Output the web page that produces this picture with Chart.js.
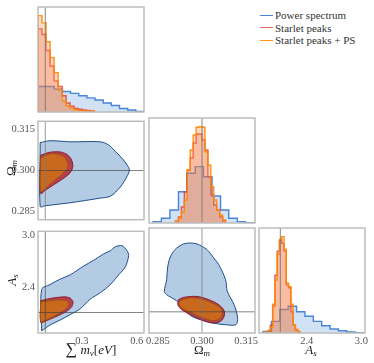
<!DOCTYPE html>
<html>
<head>
<meta charset="utf-8">
<script src="https://cdn.jsdelivr.net/npm/chart.js@4.4.0/dist/chart.umd.min.js"></script>
<style>
  html, body { margin: 0; padding: 0; background: #fff; }
  #wrap { position: relative; width: 374px; height: 363px; overflow: hidden; font-family: "Liberation Serif", "Times New Roman", serif; }
  #wrap canvas { position: absolute; }
  .ttl { position: absolute; color: #222; font-size: 13px; white-space: nowrap; transform: translate(-50%, -50%); line-height: 1; }
  .ttl.rot { transform: translate(-50%, -50%) rotate(-90deg); }
  .ttl sub { font-size: 9px; vertical-align: -2px; }
  .ttl .big { font-size: 16px; }
  .legend { position: absolute; left: 260px; top: 9px; font-size: 11px; color: #333; line-height: 12.5px; }
  .legend div { display: flex; align-items: center; white-space: nowrap; }
  .legend span.sw { display: inline-block; width: 13px; height: 0; border-top: 1.5px solid; margin-right: 2px; }
</style>
</head>
<body>
<div id="wrap">
  <canvas id="p00"></canvas>
  <canvas id="p10"></canvas>
  <canvas id="p11"></canvas>
  <canvas id="p20"></canvas>
  <canvas id="p21"></canvas>
  <canvas id="p22"></canvas>
  <div class="ttl rot" style="left:11px; top:168px;">Ω<sub><i>m</i></sub></div>
  <div class="ttl rot" style="left:12px; top:280px;"><i>A</i><sub><i>s</i></sub></div>
  <div class="ttl" style="left:91px; top:349px;"><span class="big">∑</span> <i>m</i><sub><i>ν</i></sub>[<i>eV</i>]</div>
  <div class="ttl" style="left:202px; top:350px;">Ω<sub><i>m</i></sub></div>
  <div class="ttl" style="left:311px; top:350px;"><i>A</i><sub><i>s</i></sub></div>
  <div class="legend" id="legend"></div>
</div>
<script>
// ---- data ----
const seriesNames = ["Power spectrum", "Starlet peaks", "Starlet peaks + PS"];

// fiducial values
const mnuTrue = 0.1;
const omTrue = 0.300;
const asTrue = 2.11;

// 1D histograms (bin edges + normalised heights)
const mnuEdgesPS = [0.060, 0.105, 0.149, 0.194, 0.238, 0.283, 0.328, 0.372, 0.417, 0.461, 0.506, 0.551, 0.595, 0.640];
const mnuHistPS = [0.265, 0.265, 0.237, 0.213, 0.193, 0.168, 0.147, 0.124, 0.093, 0.067, 0.036, 0.021, 0.007];
const mnuEdgesPeaks = [0.060, 0.082, 0.104, 0.126, 0.148, 0.170, 0.192, 0.214, 0.236, 0.258, 0.280, 0.302, 0.324, 0.346, 0.368];
const mnuHistPeaks = [0.863, 0.804, 0.639, 0.478, 0.323, 0.265, 0.168, 0.093, 0.059, 0.038, 0.028, 0.021, 0.016, 0.010];
const mnuHistPeaksPS = [1.0, 0.925, 0.729, 0.564, 0.409, 0.230, 0.117, 0.065, 0.038, 0.024, 0.017, 0.010];

const omEdgesPS = [0.2834, 0.2862, 0.2891, 0.2920, 0.2948, 0.2977, 0.3005, 0.3034, 0.3063, 0.3091, 0.3120, 0.3148, 0.3177];
const omHistPS = [0.014, 0.049, 0.135, 0.325, 0.516, 0.585, 0.480, 0.280, 0.135, 0.049, 0.014, 0.003];
const omEdgesPeaks = [0.291, 0.292, 0.293, 0.294, 0.295, 0.296, 0.297, 0.298, 0.299, 0.300, 0.301, 0.302, 0.303, 0.304, 0.305, 0.306, 0.307, 0.308];
const omHistPeaks = [0.016, 0.062, 0.166, 0.322, 0.550, 0.675, 0.830, 0.924, 0.924, 0.862, 0.758, 0.480, 0.290, 0.187, 0.135, 0.062, 0.020];
const omHistPeaksPS = [0.020, 0.052, 0.114, 0.239, 0.550, 0.758, 0.914, 0.994, 1.0, 0.994, 0.740, 0.600, 0.377, 0.239, 0.135, 0.083, 0.031];

const asEdgesPS = [1.920, 2.012, 2.104, 2.196, 2.288, 2.380, 2.472, 2.564, 2.656, 2.748, 2.840, 2.932, 3.024];
const asHistPS = [0.017, 0.121, 0.244, 0.278, 0.220, 0.174, 0.121, 0.076, 0.042, 0.024, 0.010, 0.003];
const asEdgesPeaks = [1.950, 1.975, 2.000, 2.025, 2.050, 2.075, 2.100, 2.125, 2.150, 2.175, 2.200, 2.225, 2.250, 2.275, 2.300, 2.325];
const asHistPeaks = [0.010, 0.020, 0.080, 0.280, 0.600, 0.850, 0.960, 0.930, 0.850, 0.500, 0.470, 0.220, 0.080, 0.030, 0.010];
const asHistPeaksPS = [0.010, 0.030, 0.060, 0.300, 0.550, 0.820, 0.970, 1.0, 0.870, 0.520, 0.480, 0.300, 0.080, 0.040, 0.015];

// 2D contours [x, y]
const cMnuOmPS = [[0.072,0.3102],[0.126,0.3109],[0.236,0.3105],[0.401,0.3105],[0.445,0.3094],[0.483,0.3070],[0.522,0.3043],[0.549,0.3019],[0.560,0.3002],[0.549,0.2981],[0.511,0.2940],[0.456,0.2906],[0.401,0.2899],[0.236,0.2882],[0.099,0.2871],[0.072,0.2868]];
const cMnuOmPeaks = [[0.075,0.3056],[0.126,0.3067],[0.181,0.3068],[0.218,0.3059],[0.241,0.3042],[0.251,0.3019],[0.245,0.3002],[0.227,0.2985],[0.190,0.2967],[0.144,0.2947],[0.099,0.2927],[0.075,0.2916]];
const cMnuOmPeaksPS = [[0.075,0.3047],[0.126,0.3061],[0.172,0.3059],[0.208,0.3047],[0.223,0.3027],[0.221,0.3008],[0.189,0.2985],[0.153,0.2965],[0.108,0.2939],[0.075,0.2922]];

const cMnuAsPS = [[0.080,1.900],[0.080,2.375],[0.126,2.430],[0.181,2.492],[0.236,2.541],[0.309,2.641],[0.364,2.707],[0.419,2.781],[0.456,2.818],[0.483,2.863],[0.520,2.874],[0.547,2.818],[0.556,2.763],[0.538,2.633],[0.501,2.541],[0.456,2.430],[0.401,2.337],[0.346,2.263],[0.291,2.152],[0.236,2.086],[0.181,2.023],[0.126,1.967],[0.089,1.912]];
const cMnuAsPeaks = [[0.075,2.245],[0.126,2.270],[0.199,2.289],[0.236,2.275],[0.251,2.230],[0.245,2.178],[0.218,2.126],[0.172,2.075],[0.126,2.034],[0.089,2.000],[0.075,1.993]];
const cMnuAsPeaksPS = [[0.075,2.234],[0.126,2.245],[0.181,2.256],[0.218,2.241],[0.230,2.208],[0.219,2.164],[0.181,2.108],[0.144,2.064],[0.108,2.026],[0.075,2.004]];

const cOmAsPS = [[0.2960,2.874],[0.2937,2.863],[0.2908,2.800],[0.2891,2.707],[0.2883,2.596],[0.2880,2.467],[0.2872,2.337],[0.2880,2.300],[0.2908,2.245],[0.2931,2.189],[0.2943,2.123],[0.2966,2.059],[0.2994,2.023],[0.3035,1.986],[0.3080,1.967],[0.3115,1.967],[0.3121,2.042],[0.3109,2.189],[0.3086,2.337],[0.3080,2.467],[0.3057,2.633],[0.3040,2.707],[0.3017,2.800],[0.2983,2.863]];
const cOmAsPeaks = [[0.2920,2.245],[0.2937,2.270],[0.2983,2.281],[0.3023,2.245],[0.3057,2.189],[0.3075,2.123],[0.3075,2.059],[0.3063,2.004],[0.3040,1.986],[0.3012,2.004],[0.2966,2.070],[0.2931,2.134],[0.2918,2.189]];
const cOmAsPeaksPS = [[0.2926,2.234],[0.2954,2.264],[0.2994,2.256],[0.3035,2.208],[0.3063,2.153],[0.3069,2.086],[0.3060,2.034],[0.3040,2.012],[0.3012,2.034],[0.2966,2.097],[0.2931,2.153],[0.2922,2.197]];

// axes
const mnuAxis = { min: 0.06, max: 0.64, ticks: [0.3, 0.6], dec: 1 };
const omAxis = { min: 0.282, max: 0.318, ticks: [0.285, 0.300, 0.315], dec: 3 };
const asAxis = { min: 1.875, max: 3.04, ticks: [2.4, 3.0], dec: 1 };
const histAxis = { min: 0, max: 1.09, ticks: [], dec: 0 };

// ---- styles ----
const histColors = [
  { line: "rgba(45,115,210,0.85)", fill: "rgba(70,140,215,0.25)" },
  { line: "rgba(232,55,50,0.8)", fill: "rgba(235,85,70,0.25)" },
  { line: "rgba(255,135,0,0.9)", fill: "rgba(250,140,60,0.32)" },
];
const contourColors = [
  { line: "#1d4e89", fill: "#b4cbe4" },
  { line: "#8c1f2e", fill: "#b3414f" },
  { line: "#a24f10", fill: "#c8691e" },
];
const serifFont = "'Liberation Serif', 'Times New Roman', serif";

const colLeft = [38, 149, 259];
const rowTop = [7, 118, 228];
const panelW = 106, panelH = 105;

// marco gris alrededor de cada panel
const framePlugin = {
  id: "frame",
  afterDatasetsDraw(chart) {
    const a = chart.chartArea, ctx = chart.ctx;
    ctx.save();
    ctx.strokeStyle = "#bdbdbd";
    ctx.lineWidth = 1.5;
    ctx.strokeRect(a.left, a.top, a.right - a.left, a.bottom - a.top);
    ctx.restore();
  },
};

function histSet(edges, heights, i) {
  const pts = [{ x: edges[0], y: 0 }];
  heights.forEach((h, k) => pts.push({ x: edges[k], y: h }));
  pts.push({ x: edges[edges.length - 1], y: 0 });
  return {
    data: pts, showLine: true, stepped: true, fill: "origin",
    borderColor: histColors[i].line, backgroundColor: histColors[i].fill,
    borderWidth: 1.4, pointRadius: 0, order: 3 - i,
  };
}

function contourSet(pts, i) {
  const data = pts.map(p => ({ x: p[0], y: p[1] }));
  data.push(data[0]);
  return {
    data, showLine: true, fill: "shape", tension: 0.3,
    borderColor: contourColors[i].line, backgroundColor: contourColors[i].fill,
    borderWidth: 1, pointRadius: 0, order: 3 - i,
  };
}

function refLine(x1, y1, x2, y2, color, width) {
  return {
    data: [{ x: x1, y: y1 }, { x: x2, y: y2 }], showLine: true, fill: false,
    borderColor: color, borderWidth: width, pointRadius: 0, order: 0,
  };
}

function axisCfg(a, show, dir, size) {
  return {
    type: "linear", min: a.min, max: a.max, display: show,
    grid: { display: false, drawTicks: false }, border: { display: false },
    afterBuildTicks: s => { s.ticks = a.ticks.map(v => ({ value: v })); },
    afterFit: s => {
      if (!show) return;
      if (dir === "x") s.height = size; else s.width = size;
    },
    ticks: {
      padding: dir === "x" ? 2 : 3, color: "#555", autoSkip: false, maxRotation: 0,
      font: { family: serifFont, size: 10.5 },
      callback: v => Number(v).toFixed(a.dec),
    },
  };
}

function makePanel(id, row, col, xa, ya, datasets) {
  const showX = row === 2, showY = col === 0 && row > 0;
  const bottomSpace = 363 - rowTop[2] - panelH;
  const pad = { left: showY ? 0 : 8, right: 8, top: 6, bottom: showX ? 0 : 6 };
  const left = showY ? 0 : colLeft[col] - pad.left;
  const w = (showY ? colLeft[0] : pad.left) + panelW + pad.right;
  const h = pad.top + panelH + (showX ? bottomSpace : pad.bottom);
  const canvas = document.getElementById(id);
  canvas.width = w; canvas.height = h;
  canvas.style.left = left + "px";
  canvas.style.top = (rowTop[row] - pad.top) + "px";
  return new Chart(canvas, {
    type: "scatter",
    data: { datasets },
    options: {
      responsive: false, animation: false, devicePixelRatio: 1,
      layout: { autoPadding: false, padding: pad },
      plugins: { legend: { display: false }, tooltip: { enabled: false } },
      scales: {
        x: axisCfg(xa, showX, "x", bottomSpace),
        y: axisCfg(ya, showY, "y", colLeft[0]),
      },
    },
    plugins: [framePlugin],
  });
}

const histLine = "rgba(120,120,120,0.75)";
const refDark = "rgba(60,60,60,0.8)";

makePanel("p00", 0, 0, mnuAxis, histAxis, [
  refLine(mnuTrue, 0, mnuTrue, histAxis.max, histLine, 1.2),
  histSet(mnuEdgesPS, mnuHistPS, 0),
  histSet(mnuEdgesPeaks, mnuHistPeaks, 1),
  histSet(mnuEdgesPeaks, mnuHistPeaksPS, 2),
]);
makePanel("p10", 1, 0, mnuAxis, omAxis, [
  refLine(mnuTrue, omAxis.min, mnuTrue, omAxis.max, histLine, 1),
  refLine(mnuAxis.min, omTrue, mnuAxis.max, omTrue, refDark, 0.8),
  contourSet(cMnuOmPS, 0),
  contourSet(cMnuOmPeaks, 1),
  contourSet(cMnuOmPeaksPS, 2),
]);
makePanel("p11", 1, 1, omAxis, histAxis, [
  refLine(omTrue, 0, omTrue, histAxis.max, histLine, 1.2),
  histSet(omEdgesPS, omHistPS, 0),
  histSet(omEdgesPeaks, omHistPeaks, 1),
  histSet(omEdgesPeaks, omHistPeaksPS, 2),
]);
makePanel("p20", 2, 0, mnuAxis, asAxis, [
  refLine(mnuTrue, asAxis.min, mnuTrue, asAxis.max, refDark, 0.8),
  refLine(mnuAxis.min, asTrue, mnuAxis.max, asTrue, refDark, 0.8),
  contourSet(cMnuAsPS, 0),
  contourSet(cMnuAsPeaks, 1),
  contourSet(cMnuAsPeaksPS, 2),
]);
makePanel("p21", 2, 1, omAxis, asAxis, [
  refLine(omTrue, asAxis.min, omTrue, asAxis.max, histLine, 1),
  refLine(omAxis.min, asTrue, omAxis.max, asTrue, refDark, 0.8),
  contourSet(cOmAsPS, 0),
  contourSet(cOmAsPeaks, 1),
  contourSet(cOmAsPeaksPS, 2),
]);
makePanel("p22", 2, 2, asAxis, histAxis, [
  refLine(asTrue, 0, asTrue, histAxis.max, histLine, 1.2),
  histSet(asEdgesPS, asHistPS, 0),
  histSet(asEdgesPeaks, asHistPeaks, 1),
  histSet(asEdgesPeaks, asHistPeaksPS, 2),
]);

// leyenda
const legend = document.getElementById("legend");
seriesNames.forEach((name, i) => {
  const row = document.createElement("div");
  row.innerHTML = '<span class="sw" style="border-color:' + histColors[i].line + '"></span>' + name;
  legend.appendChild(row);
});
</script>
</body>
</html>
